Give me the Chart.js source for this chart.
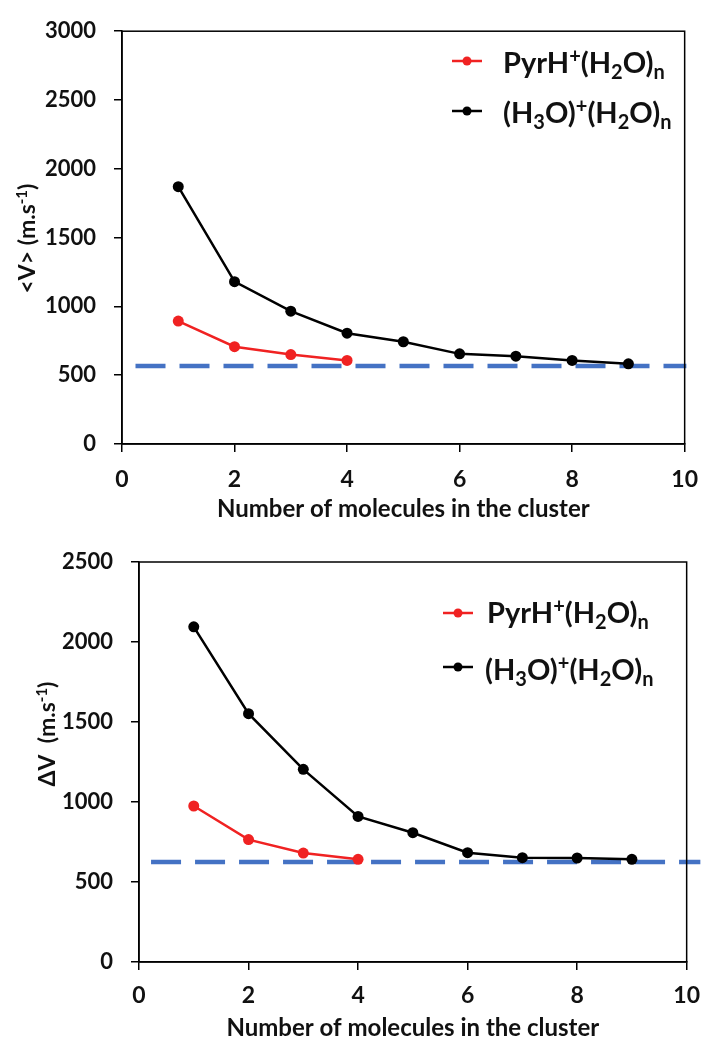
<!DOCTYPE html>
<html><head><meta charset="utf-8">
<script src="https://cdn.jsdelivr.net/npm/chart.js@4/dist/chart.umd.min.js"></script>
<style>
html,body{margin:0;padding:0;background:#fff;}
.box{position:relative;width:712px;height:520px;}
canvas{display:block;}
</style></head><body>
<div class="box"><canvas id="c1" width="712" height="520"></canvas></div>
<div class="box"><canvas id="c2" width="712" height="520"></canvas></div>
<script>
// ---- data ----
const clusterSizes = [1, 2, 3, 4, 5, 6, 7, 8, 9];
const pyrSizes = [1, 2, 3, 4];
const meanVPyr = [893, 707, 650, 607];
const meanVH3O = [1870, 1180, 965, 805, 743, 655, 638, 607, 583];
const meanVRef = 567;
const meanVRefSpan = [0.24, 10.03];
const deltaVPyr = [975, 765, 681, 642];
const deltaVH3O = [2095, 1552, 1204, 910, 808, 683, 652, 650, 642];
const deltaVRef = 625;
const deltaVRefSpan = [0.22, 10.25];
const seriesNames = ['PyrH^{+}(H_{2}O)_{n}', '(H_{3}O)^{+}(H_{2}O)_{n}'];
const yTitles = ['<V> (m.s^{-1})', 'ΔV  (m.s^{-1})'];
const xTitle = 'Number of molecules in the cluster';
const yMaxes = [3000, 2500];

// ---- helpers ----
const FONT = 'Lato, "DejaVu Sans", sans-serif';
function parseRich(s){
  const out=[]; const re=/(\^|_)\{([^}]*)\}/g; let last=0,m;
  while((m=re.exec(s))){
    if(m.index>last) out.push({t:s.slice(last,m.index),k:0});
    out.push({t:m[2],k:m[1]==='^'?1:-1}); last=re.lastIndex;
  }
  if(last<s.length) out.push({t:s.slice(last),k:0});
  return out;
}
function drawRich(ctx, s, x, base, size, align, subScale){
  const sc = subScale || 0.64;
  const segs=parseRich(s);
  const fontFor=k=>`bold ${k?Math.round(size*sc):size}px ${FONT}`;
  let w=0; segs.forEach(g=>{ctx.font=fontFor(g.k); g.w=ctx.measureText(g.t).width; w+=g.w;});
  let cx = align==='center' ? x-w/2 : x;
  ctx.textBaseline='alphabetic'; ctx.textAlign='left';
  segs.forEach(g=>{
    ctx.font=fontFor(g.k);
    const dy = g.k===1 ? -size*0.36 : g.k===-1 ? size*0.2 : 0;
    ctx.fillText(g.t,cx,base+dy); cx+=g.w;
  });
}

const decoPlugin = {
  id:'deco',
  afterDraw(chart, args, o){
    const ctx=chart.ctx, a=chart.chartArea;
    ctx.save();
    // frame
    ctx.strokeStyle='#000'; ctx.lineWidth=1.5;
    ctx.strokeRect(a.left, a.top, a.right-a.left, a.bottom-a.top);
    // legend
    const ds=chart.data.datasets;
    for(let i=0;i<2;i++){
      const y=o.legY[i];
      ctx.strokeStyle=ds[i].borderColor; ctx.lineWidth=2.5;
      ctx.beginPath(); ctx.moveTo(o.legX[0],y); ctx.lineTo(o.legX[1],y); ctx.stroke();
      ctx.fillStyle=ds[i].borderColor;
      ctx.beginPath(); ctx.arc((o.legX[0]+o.legX[1])/2,y,4.5,0,Math.PI*2); ctx.fill();
      ctx.fillStyle='#111';
      drawRich(ctx, seriesNames[i], o.legTX[i], o.legBase[i], 29, 'left', 0.7);
    }
    // x title
    ctx.fillStyle='#111';
    drawRich(ctx, xTitle, (a.left+a.right)/2, o.xTitleBase, 24, 'center');
    // y title
    ctx.save();
    ctx.translate(o.yTitleX, (a.top+a.bottom)/2 + o.yTitleDy);
    ctx.rotate(-Math.PI/2);
    drawRich(ctx, o.yTitle, 0, 8, 23, 'center');
    ctx.restore();
    ctx.restore();
  }
};

function makeChart(id, pyr, h3o, ref, span, yMax, cfg){
  const pts=(xs,ys)=>xs.map((x,i)=>({x:x,y:ys[i]}));
  return new Chart(document.getElementById(id), {
    type:'line',
    data:{datasets:[
      {label:seriesNames[0], data:pts(pyrSizes,pyr), borderColor:'#F02222', backgroundColor:'#F02222',
       borderWidth:2.5, pointRadius:5.5, pointBorderWidth:0, tension:0, order:1},
      {label:seriesNames[1], data:pts(clusterSizes,h3o), borderColor:'#000000', backgroundColor:'#000000',
       borderWidth:2.5, pointRadius:5.5, pointBorderWidth:0, tension:0, order:2},
      {label:'ref', data:span.map(x=>({x:x,y:ref})), borderColor:'#4472C4', borderWidth:4.5,
       borderDash:[30,14], pointRadius:0, clip:false, order:5}
    ]},
    options:{
      responsive:false, animation:false,
      layout:{padding:{top:cfg.top, right:17, left:0, bottom:0}},
      plugins:{legend:{display:false}, tooltip:{enabled:false}, deco:cfg.deco},
      scales:{
        x:{type:'linear', min:0, max:10,
           ticks:{stepSize:2, color:'#111', padding:cfg.xPad, font:{family:FONT, weight:'bold', size:23},
                  callback:v=>String(v)},
           grid:{drawOnChartArea:false, drawTicks:true, tickLength:8, color:'#000', lineWidth:1.5},
           border:{color:'#000', width:1.5},
           afterFit:s=>{s.height=cfg.xH;}},
        y:{min:0, max:yMax,
           ticks:{stepSize:500, color:'#111', padding:18, font:{family:FONT, weight:'bold', size:22},
                  callback:v=>String(v)},
           grid:{drawOnChartArea:false, drawTicks:true, tickLength:8, color:'#000', lineWidth:1.5},
           border:{color:'#000', width:1.5},
           afterFit:s=>{s.width=cfg.yW;}}
      }
    },
    plugins:[decoPlugin]
  });
}

makeChart('c1', meanVPyr, meanVH3O, meanVRef, meanVRefSpan, yMaxes[0], {
  top:25, xH:76, yW:122, xPad:14,
  deco:{legX:[452,482], legY:[61,111], legTX:[503,503], legBase:[73,123],
        xTitleBase:517, yTitleX:27, yTitleDy:1, yTitle:yTitles[0]}
});
makeChart('c2', deltaVPyr, deltaVH3O, deltaVRef, deltaVRefSpan, yMaxes[1], {
  top:42, xH:78, yW:139, xPad:12,
  deco:{legX:[443,473], legY:[93,147], legTX:[487,485], legBase:[103,160],
        xTitleBase:516, yTitleX:47, yTitleDy:-28, yTitle:yTitles[1]}
});
</script>
</body></html>
